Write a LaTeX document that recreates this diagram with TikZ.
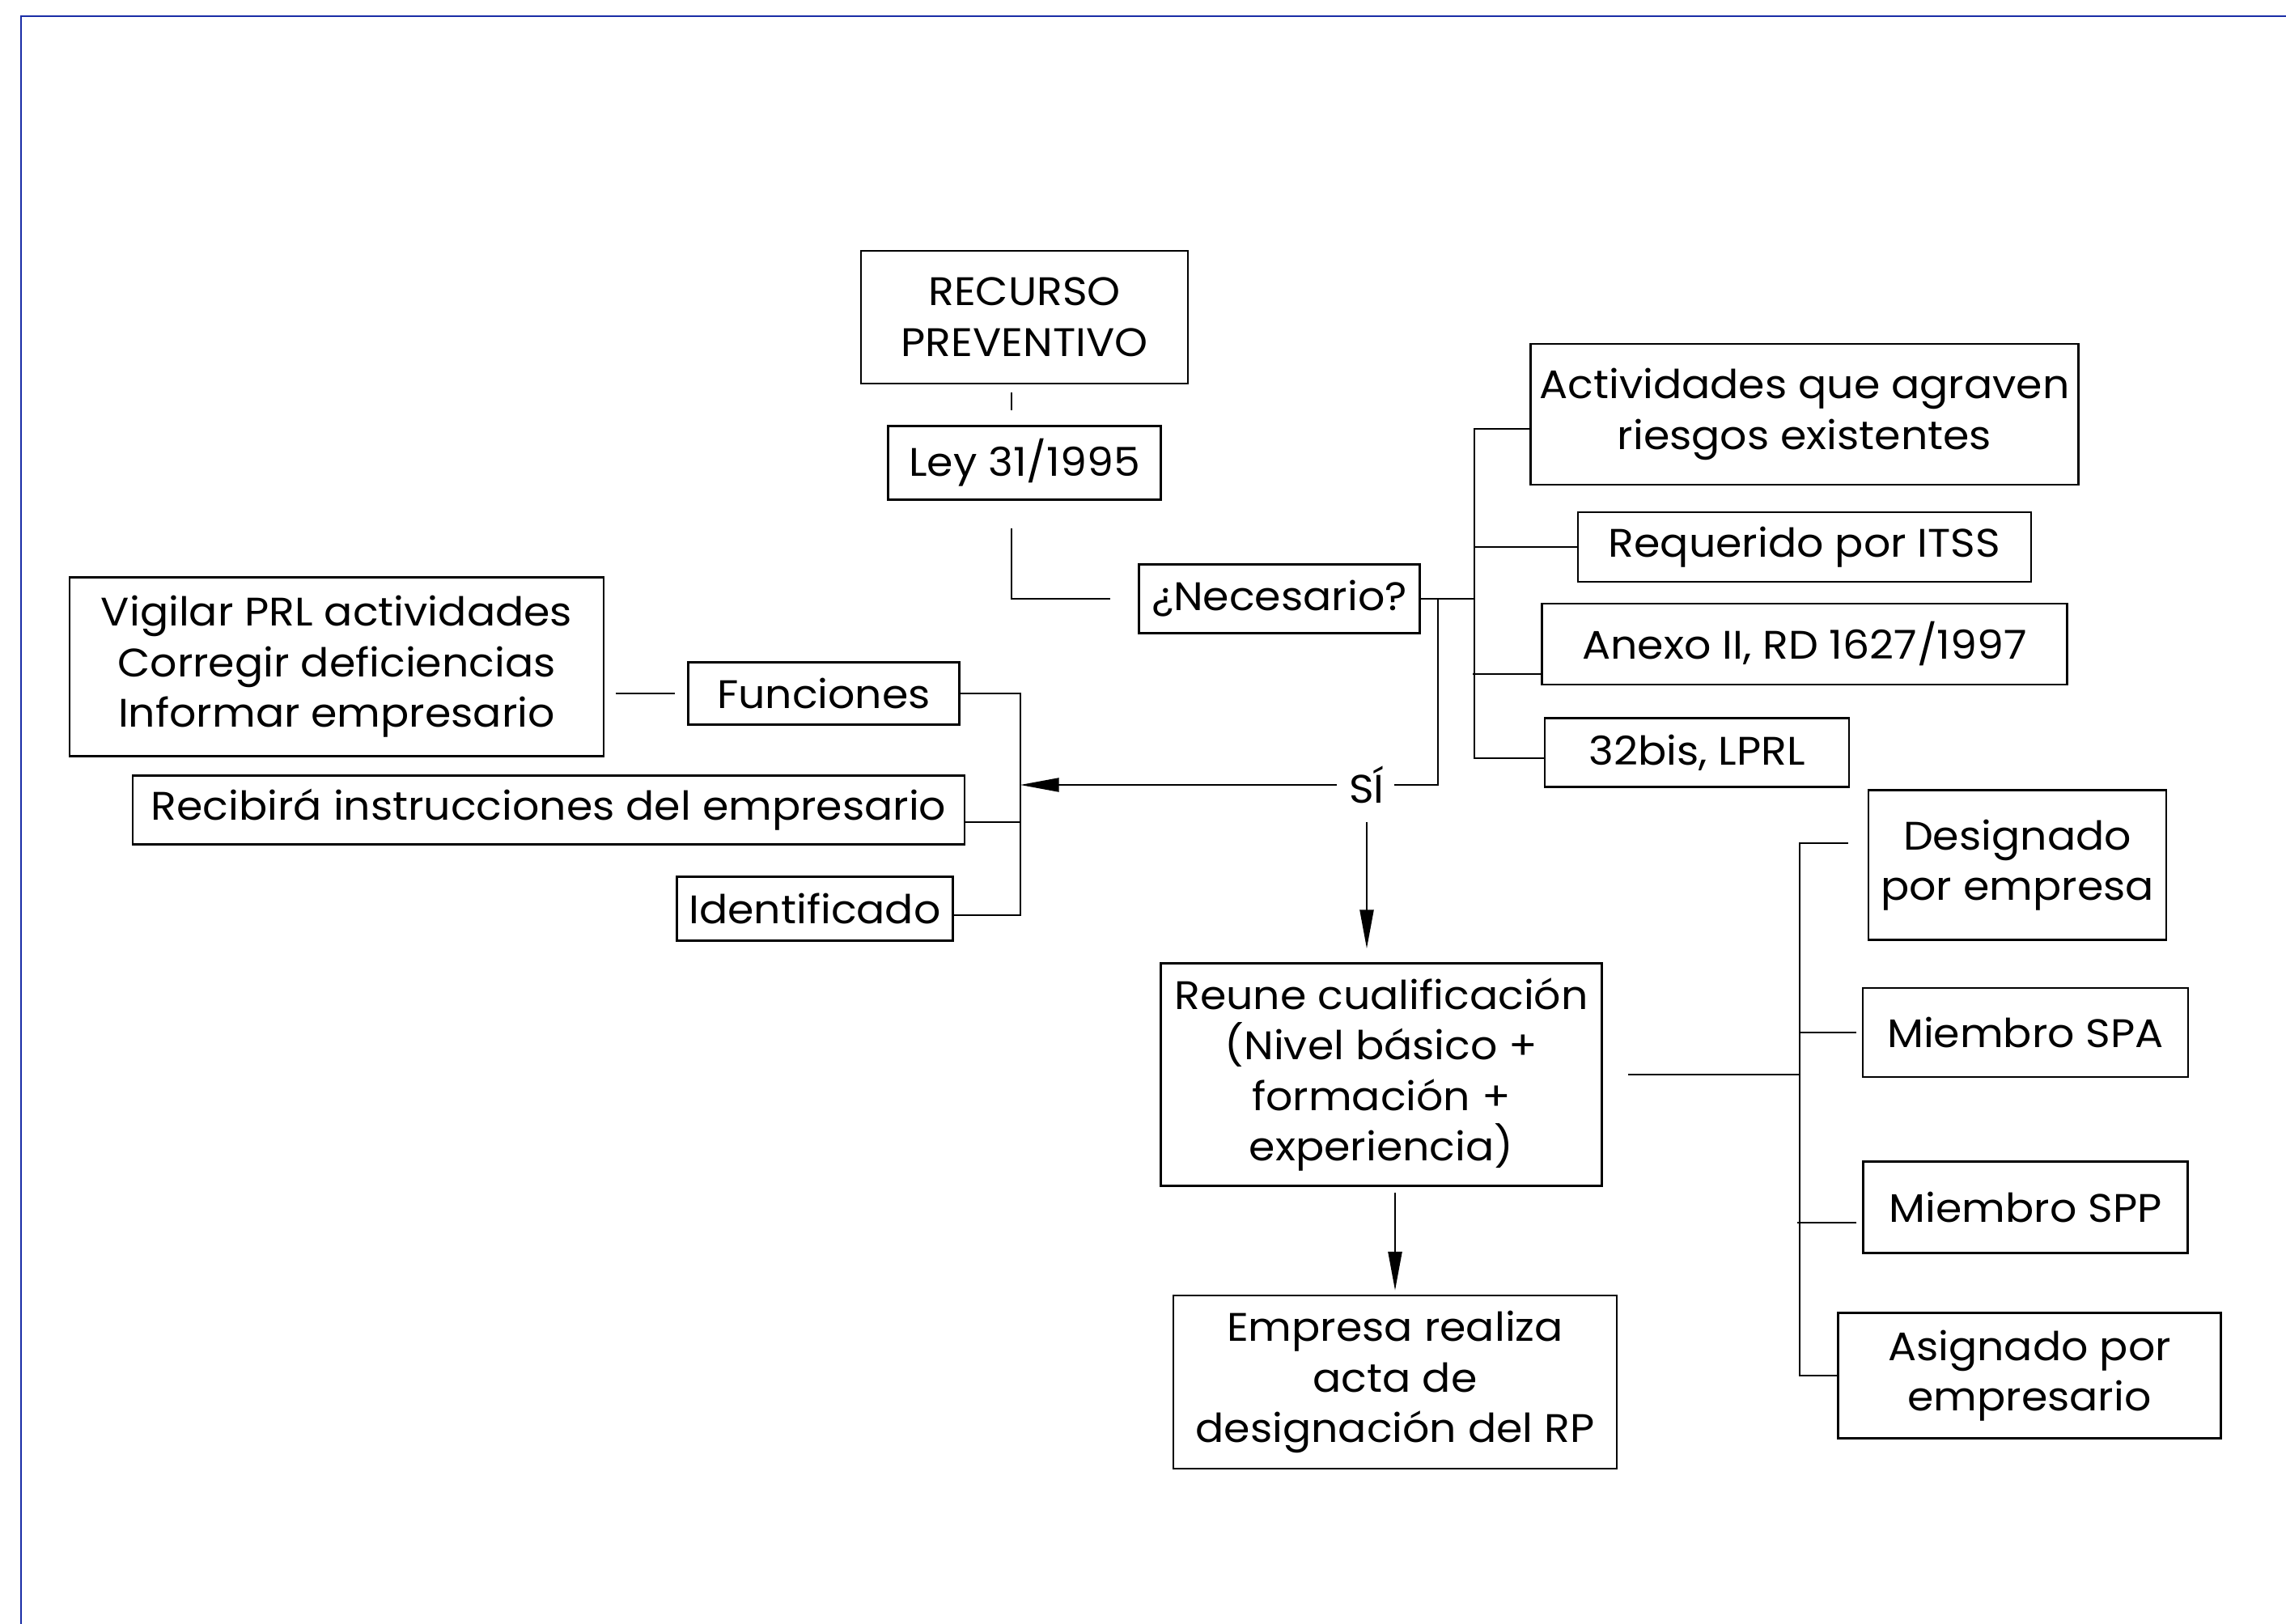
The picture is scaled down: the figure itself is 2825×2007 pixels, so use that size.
\documentclass[tikz,border=0pt]{standalone}
\usepackage{fontspec}
\setmainfont{Poppins}[FakeStretch=1.06]
\usetikzlibrary{arrows.meta,positioning}
\definecolor{frameblue}{HTML}{1A2DA6}

\begin{document}
\begin{tikzpicture}[x=0.1mm, y=-0.1mm, font=\fontsize{14}{17.8}\selectfont,
		box/.style={draw, line width=0.7pt, align=center, inner sep=0pt},
		link/.style={line width=0.7pt},
		arr/.style={line width=0.7pt, -{Triangle[length=4.8mm,width=1.7mm]}}]
	\useasboundingbox (0,0) rectangle (2825,2007);
	\draw[frameblue, line width=0.8pt] (2825,20) -- (26,20) -- (26,2007);

	\node[box, minimum width=40.4mm, minimum height=16.4mm] (rp) at (1266,392) {RECURSO\\PREVENTIVO};
	\node[box, minimum width=33.7mm, minimum height=9.1mm] (ley) at (1266,572) {Ley 31/1995};
	\node[box, minimum width=34.7mm, minimum height=8.5mm] (nec) at (1581,740) {¿Necesario?};

	\node[box, minimum width=67.7mm, minimum height=17.4mm] (act) at (2230,512) {Actividades que agraven\\riesgos existentes};
	\node[box, minimum width=56mm, minimum height=8.6mm] (itss) at (2230,676) {Requerido por ITSS};
	\node[box, minimum width=64.9mm, minimum height=10mm] (anexo) at (2230,796) {Anexo II, RD 1627/1997};
	\node[box, minimum width=37.6mm, minimum height=8.5mm] (lprl) at (2097,930) {32bis, LPRL};

	\node[box, minimum width=66mm, minimum height=22.1mm] (vig) at (416,824) {Vigilar PRL actividades\\Corregir deficiencias\\Informar empresario};
	\node[box, minimum width=33.5mm, minimum height=7.7mm] (fun) at (1018,857) {Funciones};
	\node[box, minimum width=102.8mm, minimum height=8.5mm] (rec) at (678,1001) {Recibirá instrucciones del empresario};
	\node[box, minimum width=34.1mm, minimum height=7.9mm] (ident) at (1007,1123) {Identificado};
	\node[inner sep=0pt] (si) at (1689,970) {SÍ};

	\node[box, minimum width=54.5mm, minimum height=27.5mm] (reune) at (1707,1328) {Reune cualificación\\(Nivel básico +\\formación +\\experiencia)};
	\node[box, minimum width=54.8mm, minimum height=21.4mm] (emp) at (1724,1708) {Empresa realiza\\acta de\\designación del RP};
	\node[box, minimum width=36.8mm, minimum height=18.5mm] (des) at (2493,1069) {Designado\\por empresa};
	\node[box, minimum width=40.2mm, minimum height=11mm] (spa) at (2503,1276) {Miembro SPA};
	\node[box, minimum width=40.1mm, minimum height=11.3mm] (spp) at (2503,1492) {Miembro SPP};
	\node[box, minimum width=47.3mm, minimum height=15.5mm] (asig) at (2508,1700) {Asignado por\\empresario};

	% ramas de ¿Necesario?
	\draw[link] ([xshift=-1.6mm,yshift=-1mm]rp.south) -- ([xshift=-1.6mm,yshift=1.8mm]ley.north);
	\draw[link] ([xshift=-1.6mm,yshift=-3.4mm]ley.south) |- ([xshift=-3.4mm]nec.west);
	\draw[link] (nec.east) -- ++(6.6mm,0) coordinate (nb);
	\draw[link] ([yshift=-1.8mm]act.west) -| ([yshift=-0.7mm]nb |- lprl.west) -- ([yshift=-0.7mm]lprl.west);
	\draw[link] (itss.west) -- (nb |- itss.west);
	\draw[link] ([yshift=-3.7mm]anexo.west) -- ++(-8.4mm,0);
	\draw[link] ([xshift=2.1mm]nec.east) |- ([xshift=1.2mm]si.east);

	% funciones
	\draw[link] (fun.east) -- ++(7.4mm,0) coordinate (lb) |- ([yshift=-0.8mm]ident.east);
	\draw[link] ([yshift=-1.5mm]rec.east) -- ++(6.7mm,0);
	\draw[link] ([xshift=1.4mm]vig.east |- fun.west) -- ([xshift=-1.5mm]fun.west);
	\draw[arr] ([xshift=-1.5mm]si.west) -- (lb |- si.west);

	% cualificacion
	\draw[arr] ([yshift=-2.2mm]si.south) -- ([yshift=1.7mm]si.south |- reune.north);
	\draw[arr] ([yshift=-0.7mm]reune.south -| emp.north) -- ([yshift=0.5mm]emp.north);
	\draw[link] ([xshift=3.1mm]reune.east) -- ++(21.2mm,0) coordinate (rb);
	\draw[link] ([xshift=-2.4mm,yshift=2.7mm]des.west) -| (rb |- asig.west) -- (asig.west);
	\draw[link] ([xshift=-0.7mm]spa.west) -- (rb |- spa.west);
	\draw[link] ([xshift=-0.7mm,yshift=-1.9mm]spp.west) -- ++(-7.3mm,0);
\end{tikzpicture}
\end{document}
